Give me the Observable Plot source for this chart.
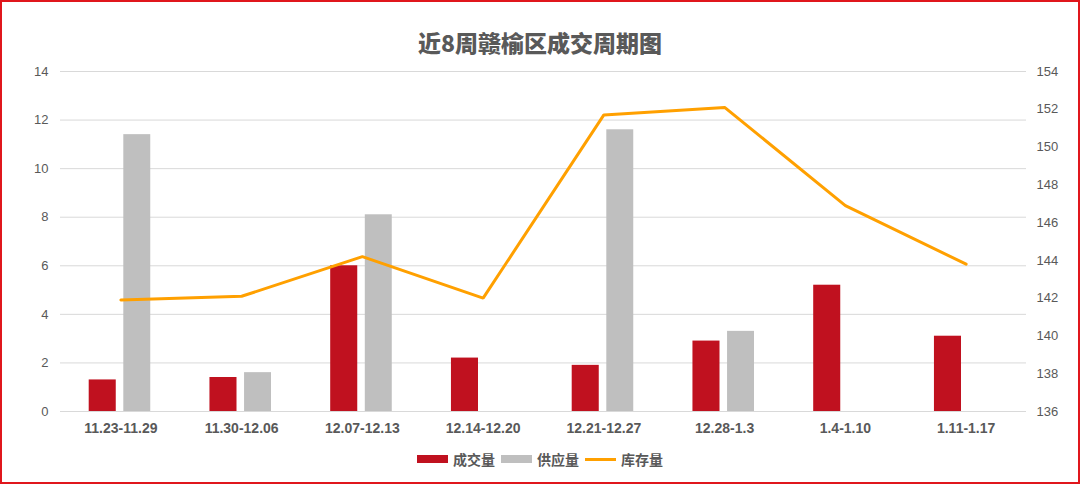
<!DOCTYPE html>
<html>
<head>
<meta charset="utf-8">
<script src="https://cdn.jsdelivr.net/npm/d3@7"></script>
<script src="https://cdn.jsdelivr.net/npm/@observablehq/plot@0.6"></script>
<style>
  html, body { margin: 0; padding: 0; background: #fff; }
  #wrap {
    width: 1080px; height: 484px; box-sizing: border-box;
    border: 2px solid #e0161c; background: #fff; position: relative; overflow: hidden;
    font-family: "Liberation Sans", "Noto Sans CJK SC", sans-serif;
  }
  #title {
    height: 58px; line-height: 80px; text-align: center;
    font-family: "Noto Sans CJK SC", sans-serif;
    font-size: 23px; font-weight: 900; color: #595959;
  }
  #chart { height: 385px; }
  #legend {
    display: flex; justify-content: center; align-items: center;
    font-family: "Noto Sans CJK SC", sans-serif; font-size: 14px; font-weight: bold; color: #595959;
    margin-top: 4px; gap: 0;
  }
  .item { display: flex; align-items: center; margin: 0 3px; }
  .sw { width: 31px; height: 8px; margin-right: 5px; }
  .ln { width: 31px; height: 3px; margin-right: 5px; }
</style>
</head>
<body>
<div id="wrap">
  <div id="title">近8周赣榆区成交周期图</div>
  <div id="chart"></div>
  <div id="legend"></div>
</div>
<script>
const categories = ["11.23-11.29","11.30-12.06","12.07-12.13","12.14-12.20","12.21-12.27","12.28-1.3","1.4-1.10","1.11-1.17"];
const dealVolume = [1.3, 1.4, 6.0, 2.2, 1.9, 2.9, 5.2, 3.1];
const supplyVolume = [11.4, 1.6, 8.1, null, 11.6, 3.3, null, null];
const stockVolume = [141.9, 142.1, 144.2, 142.0, 151.7, 152.1, 146.9, 143.8];
const leftTicks = [0, 2, 4, 6, 8, 10, 12, 14];
const rightTicks = [136, 138, 140, 142, 144, 146, 148, 150, 152, 154];
const seriesNames = ["成交量", "供应量", "库存量"];
const colors = ["#C0111F", "#BFBFBF", "#FFA000"];

const rMin = 136, rMax = 154, lMax = 14;
const toLeft = v => (v - rMin) / (rMax - rMin) * lMax;
const toRight = v => Math.round(v / lMax * (rMax - rMin) + rMin);

const rows = categories.map((c, i) => ({cat: c, deal: dealVolume[i], supply: supplyVolume[i], stock: stockVolume[i]}));

const chart = Plot.plot({
  width: 1076,
  height: 385,
  marginTop: 11,
  marginBottom: 34,
  marginLeft: 58,
  marginRight: 52,
  style: {fontFamily: '"Liberation Sans", "Noto Sans CJK SC", sans-serif', fontSize: "13px", color: "#595959", background: "#fff"},
  x: {domain: categories, padding: 0, round: false, label: null},
  y: {domain: [0, lMax], label: null},
  marks: [
    Plot.gridY(leftTicks, {stroke: "#d9d9d9", strokeOpacity: 1, strokeWidth: 1}),
    Plot.barY(rows, {x: "cat", y: "deal", fill: colors[0], insetLeft: 28.7, insetRight: 65}),
    Plot.barY(rows.filter(d => d.supply != null), {x: "cat", y: "supply", fill: colors[1], insetLeft: 63.3, insetRight: 30.5}),
    Plot.line(rows, {x: "cat", y: d => toLeft(d.stock), stroke: colors[2], strokeWidth: 3, strokeLinejoin: "miter"}),
    Plot.axisY(leftTicks, {anchor: "left", tickSize: 0, tickPadding: 12, label: null, fill: "#595959"}),
    Plot.axisY(rightTicks.map(toLeft), {anchor: "right", tickSize: 0, tickPadding: 10, label: null, tickFormat: toRight, fill: "#595959"}),
    Plot.axisX({tickSize: 0, tickPadding: 12, label: null, fontWeight: "bold", fontSize: 14, fill: "#595959"})
  ]
});
document.getElementById("chart").appendChild(chart);

const legend = document.getElementById("legend");
seriesNames.forEach((name, i) => {
  const it = document.createElement("div");
  it.className = "item";
  const s = document.createElement("div");
  s.className = i === 2 ? "ln" : "sw";
  s.style.background = colors[i];
  const t = document.createElement("span");
  t.textContent = name;
  it.appendChild(s); it.appendChild(t);
  legend.appendChild(it);
});
</script>
</body>
</html>
